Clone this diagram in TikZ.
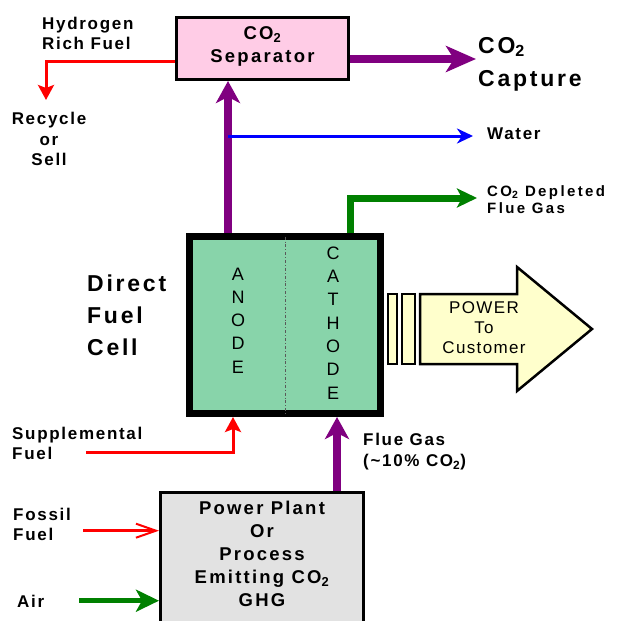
\documentclass[tikz,border=0pt]{standalone}
\usepackage{fontspec}
\setmainfont{Liberation Sans}
\usetikzlibrary{arrows.meta}
\definecolor{sepfill}{RGB}{255,204,230}
\definecolor{cellfill}{RGB}{136,212,170}
\definecolor{plantfill}{RGB}{226,226,226}
\definecolor{powerfill}{RGB}{255,255,204}
\definecolor{flowpurple}{RGB}{128,0,128}
\definecolor{flowgreen}{RGB}{0,128,0}
\begin{document}
\begin{tikzpicture}[
  x = 1pt, y = -1pt,
  box/.style = {
    draw = black,
    inner sep = 0pt
  },
  lbl/.style = {
    inner sep = 0pt,
    align = left,
    font = \addfontfeatures{LetterSpace=10}\bfseries\fontsize{17}{20}\selectfont
  },
  biglbl/.style = {
    inner sep = 0pt,
    align = left,
    font = \addfontfeatures{LetterSpace=12}\bfseries\fontsize{23}{32}\selectfont
  },
  boxtext/.style = {
    inner sep = 0pt,
    align = center,
    font = \addfontfeatures{LetterSpace=12}\bfseries\fontsize{18.5}{23}\selectfont
  },
  celltext/.style = {
    inner sep = 0pt,
    align = center,
    font = \fontsize{18}{23.3}\selectfont
  },
  bar/.style = {
    draw = black,
    line width = 2pt,
    fill = powerfill,
    minimum height = 70pt,
    inner sep = 0pt
  },
  purpleflow/.style = {
    draw = flowpurple,
    line width = 8pt,
    -{Stealth[length = 22pt, width = 24pt, inset = 6pt]}
  },
  redflow/.style = {
    draw = red,
    line width = 3pt,
    -{Stealth[length = 15pt, width = 16pt, inset = 3pt]}
  },
  blueflow/.style = {
    draw = blue,
    line width = 3pt,
    -{Stealth[length = 16pt, width = 15pt, inset = 5pt]}
  },
  greenflow/.style = {
    draw = flowgreen,
    line width = 7pt,
    -{Stealth[length = 20pt, width = 19pt, inset = 5pt]}
  }
]
  \useasboundingbox (0, 0) rectangle (616, 621);

  \node[box, line width = 3pt, fill = sepfill, minimum width = 172pt, minimum height = 62pt] (sep) at (262.5, 48.5) {};
  \node[boxtext] (septext) at (262.5, 46) {CO\textsubscript{2}\\Separator};

  \node[box, line width = 7pt, fill = cellfill, minimum width = 191pt, minimum height = 177pt] (cell) at (285, 325) {};
  \draw[gray!70!black, line width = 0.8pt, dash dot] ([yshift = -3.5pt]cell.north) -- ([yshift = 3.5pt]cell.south);
  \node[celltext] (anode) at (238, 320.5) {A\\N\\O\\D\\E};
  \node[celltext] (cathode) at (333, 323) {C\\A\\T\\H\\O\\D\\E};

  \node[box, line width = 3pt, fill = plantfill, minimum width = 203pt, minimum height = 133pt] (plant) at (262, 559) {};
  \node[boxtext] (planttext) at (262, 554) {Power Plant\\Or\\Process\\Emitting CO\textsubscript{2}\\GHG};

  \node[bar, minimum width = 9pt] (bar1) at (392.5, 329) {};
  \node[bar, minimum width = 13pt] (bar2) at (408.5, 329) {};
  \draw[line width = 2.5pt, fill = powerfill, line join = miter]
    (420, 294) -- (517, 294) -- (517, 267) -- (592, 329) -- (517, 391) -- (517, 364) -- (420, 364) -- cycle;
  \node[boxtext, font = \addfontfeatures{LetterSpace=8}\fontsize{17}{20}\selectfont] (power) at (484, 328) {POWER\\To\\Customer};

  \node[lbl, anchor = north west] (hydrogen) at (42, 16.7) {Hydrogen\\Rich Fuel};
  \node[lbl, anchor = north, align = center, font = \addfontfeatures{LetterSpace=10}\bfseries\fontsize{17}{20.5}\selectfont] (recycle) at (49, 112) {Recycle\\or\\Sell};
  \node[biglbl, anchor = north west, font = \addfontfeatures{LetterSpace=12}\bfseries\fontsize{23}{33}\selectfont] (capture) at (478, 37) {CO\textsubscript{2}\\Capture};
  \node[lbl, anchor = north west] (water) at (487, 128) {Water};
  \node[lbl, anchor = north west, font = \addfontfeatures{LetterSpace=16}\bfseries\fontsize{15}{17}\selectfont] (depleted) at (487, 185.5) {CO\textsubscript{2} Depleted\\Flue Gas};
  \node[biglbl, anchor = north west] (direct) at (87, 275) {Direct\\Fuel\\Cell};
  \node[lbl, anchor = north west] (supplemental) at (12, 427) {Supplemental\\Fuel};
  \node[lbl, anchor = north west, font = \addfontfeatures{LetterSpace=10}\bfseries\fontsize{17}{21}\selectfont] (fluegas) at (363, 433) {Flue Gas\\(\textasciitilde 10\% CO\textsubscript{2})};
  \node[lbl, anchor = north west] (fossil) at (13, 508) {Fossil\\Fuel};
  \node[lbl, anchor = north west] (air) at (17, 595) {Air};

  \coordinate (capin) at (476, 59);
  \coordinate (h2corner) at (46, 61);
  \coordinate (h2tip) at (46, 100);
  \coordinate (anodeout) at ([xshift = -57pt]cell.north);
  \coordinate (waterin) at (473, 136);
  \coordinate (cathodeout) at ([xshift = 65pt]cell.north);
  \coordinate (depletedin) at (477, 198);
  \coordinate (suppin) at (86, 452);
  \coordinate (fossilin) at (83, 530.7);
  \coordinate (airin) at (79, 600.7);

  \draw[purpleflow, -{Stealth[length = 30pt, width = 26pt, inset = 8pt]}] (sep.east |- capin) -- (capin);
  \draw[redflow] (sep.west |- h2corner) -- (h2corner) -- (h2tip);
  \draw[purpleflow] (anodeout) -- (anodeout |- sep.south);
  \draw[blueflow] (anodeout |- waterin) -- (waterin);
  \draw[greenflow] (cathodeout) |- (depletedin);
  \draw[redflow] (suppin) -| ([xshift = -52pt]cell.south);
  \draw[purpleflow] ([xshift = 75pt]plant.north) -- ([xshift = 52pt]cell.south);
  \draw[draw = red, line width = 2.5pt, -{Straight Barb[length = 20pt, width = 14pt, line width = 2pt]}] (fossilin) -- (plant.west |- fossilin);
  \draw[draw = flowgreen, line width = 5.5pt, -{Stealth[length = 23pt, width = 22pt, inset = 6pt]}] (airin) -- (plant.west |- airin);
\end{tikzpicture}
\end{document}
